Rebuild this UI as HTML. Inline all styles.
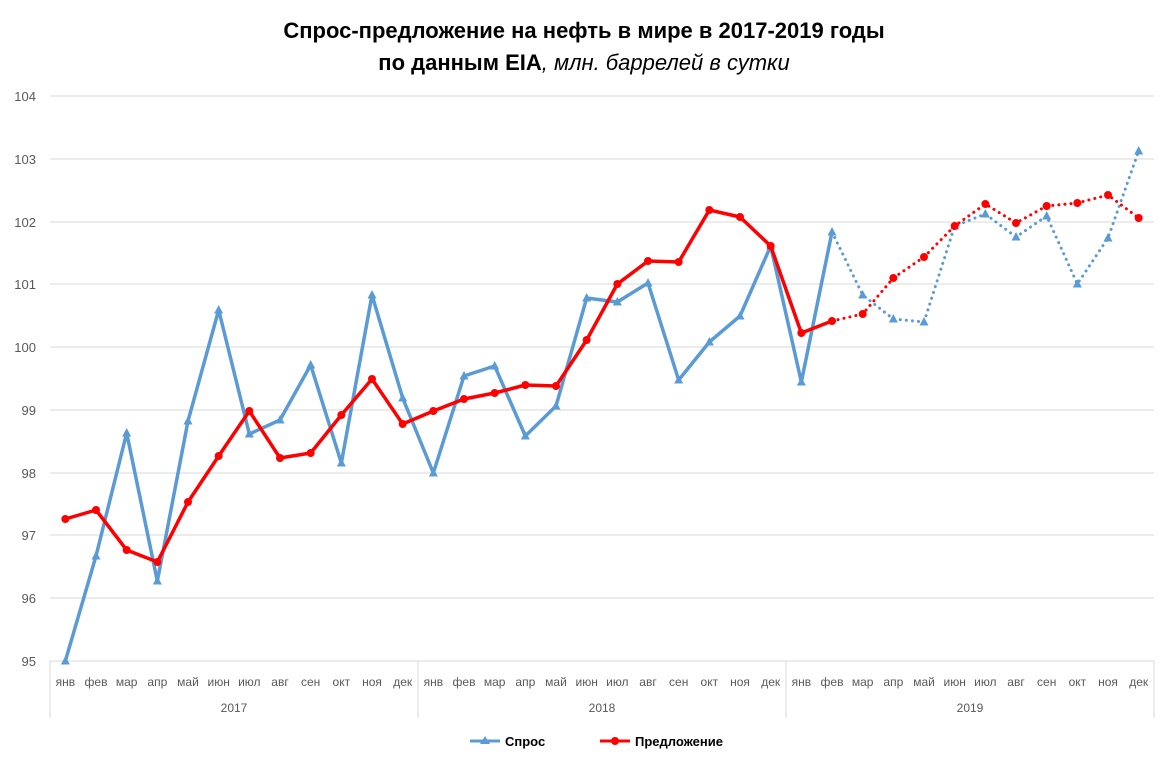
<!DOCTYPE html>
<html><head><meta charset="utf-8"><style>
body{margin:0;background:#fff;}
svg{display:block;font-family:"Liberation Sans",sans-serif;}
</style></head><body>
<svg width="1169" height="765" viewBox="0 0 1169 765">
<rect width="1169" height="765" fill="#fff"/>
<text x="584" y="38" text-anchor="middle" font-size="22" font-weight="bold" fill="#000">Спрос-предложение на нефть в мире в 2017-2019 годы</text>
<text x="584" y="70" text-anchor="middle" font-size="22" fill="#000"><tspan font-weight="bold">по данным EIA</tspan><tspan font-style="italic">, млн. баррелей в сутки</tspan></text>
<g stroke="#d9d9d9" stroke-width="1">
<line x1="50" x2="1154" y1="96" y2="96"/><line x1="50" x2="1154" y1="159" y2="159"/><line x1="50" x2="1154" y1="222" y2="222"/><line x1="50" x2="1154" y1="284" y2="284"/><line x1="50" x2="1154" y1="347" y2="347"/><line x1="50" x2="1154" y1="410" y2="410"/><line x1="50" x2="1154" y1="473" y2="473"/><line x1="50" x2="1154" y1="535" y2="535"/><line x1="50" x2="1154" y1="598" y2="598"/>
<line x1="50" x2="1154" y1="661" y2="661"/>
<line x1="50" x2="50" y1="661" y2="718"/><line x1="418" x2="418" y1="661" y2="718"/><line x1="786" x2="786" y1="661" y2="718"/><line x1="1154" x2="1154" y1="661" y2="718"/>
</g>
<g font-size="13" fill="#595959" text-anchor="end">
<text x="36" y="101">104</text><text x="36" y="164">103</text><text x="36" y="227">102</text><text x="36" y="289">101</text><text x="36" y="352">100</text><text x="36" y="415">99</text><text x="36" y="478">98</text><text x="36" y="540">97</text><text x="36" y="603">96</text><text x="36" y="666">95</text>
</g>
<g font-size="12" fill="#595959" text-anchor="middle" id="months"></g>
<g font-size="12" fill="#595959" text-anchor="middle">
<text x="234" y="712">2017</text><text x="602" y="712">2018</text><text x="970" y="712">2019</text>
</g>
<g id="series"></g>
<g font-size="13" font-weight="bold" fill="#000">
<line x1="470" x2="500" y1="741" y2="741" stroke="#5b9bd5" stroke-width="3"/><polygon points="485,736 490,744 480,744" fill="#5b9bd5"/>
<text x="505" y="746">Спрос</text>
<line x1="600" x2="630" y1="741" y2="741" stroke="#ff0000" stroke-width="3"/><circle cx="615" cy="741" r="4" fill="#ff0000"/>
<text x="635" y="746">Предложение</text>
</g>
</svg>
<script>
var ns="http://www.w3.org/2000/svg";
var m=["янв","фев","мар","апр","май","июн","июл","авг","сен","окт","ноя","дек"];
var mg=document.getElementById("months");
function X(i){return 50+30.667*(i+0.5);}
for(var i=0;i<36;i++){var t=document.createElementNS(ns,"text");t.setAttribute("x",X(i));t.setAttribute("y",686);t.textContent=m[i%12];mg.appendChild(t);}
var d=[661,556,433,581,421,310,434,420,365,463,295,398,473,376,366,436,406,298,302,283,380,342,316,246,382,232,295,319,322,226,214,237,216,284,238,151];
var s=[519,510,550,562,502,456,411,458,453,415,379,424,411,399,393,385,386,340,284,261,262,210,217,246,333,321,314,278,257,226,204,223,206,203,195,218];
var g=document.getElementById("series");
function line(arr,a,b,col,dash){var p="";for(var i=a;i<=b;i++)p+=X(i)+","+arr[i]+" ";var l=document.createElementNS(ns,"polyline");l.setAttribute("points",p);l.setAttribute("fill","none");l.setAttribute("stroke",col);l.setAttribute("stroke-width",dash?3:3.5);l.setAttribute("stroke-linejoin","round");if(dash){l.setAttribute("stroke-dasharray","0.1 6");l.setAttribute("stroke-linecap","round");}g.appendChild(l);}
line(d,0,25,"#5b9bd5",false);line(d,25,35,"#5b9bd5",true);
for(var i=0;i<36;i++){var p=document.createElementNS(ns,"polygon");var x=X(i),y=d[i];p.setAttribute("points",x+","+(y-5)+" "+(x+4.5)+","+(y+3.5)+" "+(x-4.5)+","+(y+3.5));p.setAttribute("fill","#5b9bd5");g.appendChild(p);}
line(s,0,25,"#ff0000",false);line(s,25,35,"#ff0000",true);
for(var i=0;i<36;i++){var c=document.createElementNS(ns,"circle");c.setAttribute("cx",X(i));c.setAttribute("cy",s[i]);c.setAttribute("r",4);c.setAttribute("fill","#ff0000");g.appendChild(c);}
</script>
</body></html>
